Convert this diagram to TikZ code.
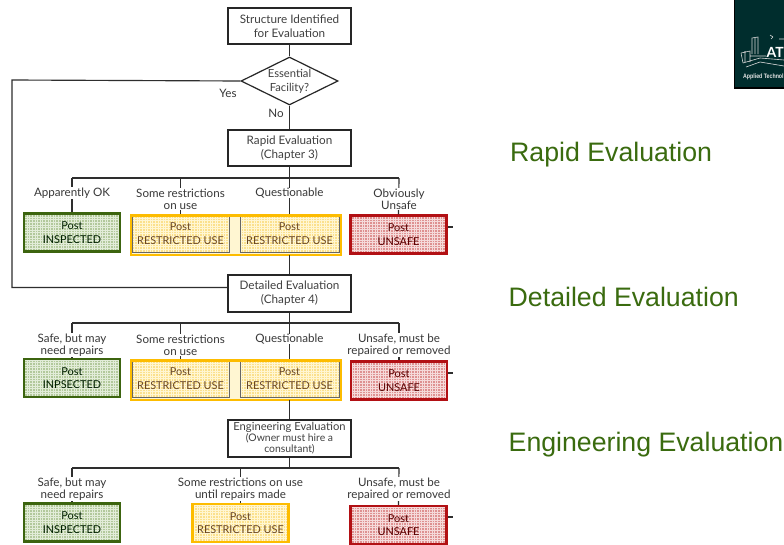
\documentclass[tikz,border=0pt]{standalone}
\usepackage{fontspec}
\usetikzlibrary{shapes.geometric}
\setmainfont{Lato}
\newfontfamily\arialf{Liberation Sans}
\definecolor{sidegreen}{RGB}{58,107,15}
\definecolor{gborder}{RGB}{60,100,15}
\definecolor{gfill}{RGB}{178,200,155}
\definecolor{gmesh}{RGB}{226,236,216}
\definecolor{yborder}{RGB}{253,188,0}
\definecolor{yfill}{RGB}{251,224,140}
\definecolor{ymesh}{RGB}{255,246,210}
\definecolor{rborder}{RGB}{178,16,20}
\definecolor{rfill}{RGB}{222,145,145}
\definecolor{rmesh}{RGB}{245,218,218}
\begin{document}
\begin{tikzpicture}[x=1pt,y=-1pt,
  flow/.style={draw=black!82,line width=1.15pt},
  capt/.style={font=\fontsize{11.6}{12}\selectfont,text=black!78,align=center,fill=white,inner sep=0.3pt},
  tbox/.style={rectangle,draw=black!85,fill=white,minimum width=123pt,minimum height=36pt,inner sep=0pt,align=center,text=black!75,font=\fontsize{11.7}{14}\selectfont},
  diam/.style={diamond,aspect=2,draw=black!85,line width=1.2pt,fill=white,inner sep=0pt,minimum width=97pt,minimum height=48pt,align=center,text=black!75,font=\fontsize{11.2}{14}\selectfont},
  mesh/.style={path picture={\draw[#1,line width=0.8pt] (path picture bounding box.south west) grid[step=2.6pt] (path picture bounding box.north east);}},
  post/.style={rectangle,minimum width=96pt,minimum height=38pt,inner sep=0pt,align=center,font=\fontsize{10.9}{13.5}\selectfont},
  pgreen/.style={post,draw=gborder,line width=2.4pt,fill=gfill,text=black!70!green!40!black,mesh=gmesh},
  pyellow/.style={post,draw=yborder,line width=2.4pt,fill=yfill,text=brown!55!black,mesh=ymesh},
  pyin/.style={post,draw=black!60,line width=1pt,fill=yfill,text=brown!55!black,mesh=ymesh},
  ygroup/.style={post,draw=none,fill=ymesh,minimum width=210pt,minimum height=39pt},
  youtline/.style={draw=yborder,line width=2.4pt},
  pred/.style={post,draw=rborder,line width=2.4pt,fill=rfill,text=red!35!black,mesh=rmesh},
  side/.style={font=\arialf\fontsize{26.7}{30}\selectfont,text=sidegreen,inner sep=0pt,anchor=base west}]
\useasboundingbox (0,0) rectangle (784,544);
\fill[white] (0,0) rectangle (784,544);

% logo
\begin{scope}
\clip (0,0) rectangle (784,544);
\fill[black] (733.5,0) rectangle (784,88.5);
\fill[teal!35!black] (735,0) rectangle (784,87);
\draw[white!85!black,line width=0.6pt] (741,53) -- (750,51) -- (750,62) (741,53) -- (743,63)
  (752,54) -- (752,38) -- (758,37) -- (758,54) (755,38) -- (755,54) (745,51) -- (745,62)
  (743,63) -- (760,58) -- (784,60) (746,67) -- (760,62) -- (784,66) (750,56) -- (766,56)
  (770,35) -- (773,37) (771,39) -- (773,37) (779,39) -- (784,39);
\node[font=\bfseries\fontsize{14}{14}\selectfont,text=white,anchor=west,inner sep=0pt] (atc) at (766.4,52.5) {AT};
\node[font=\bfseries\arialf\fontsize{6.4}{7}\selectfont,text=white!90!black,anchor=west,inner sep=0pt] (atcname) at (743,77) {\scalebox{0.82}[1]{Applied Technol}};
\end{scope}

% decision boxes
\node[tbox,line width=1.2pt] (start) at (289.5,26) {Structure Identified\\for Evaluation};
\node[diam] (ess) at (289.5,81) {Essential\\Facility?};
\node[tbox,line width=2pt] (rapid) at (289.5,148) {Rapid Evaluation\\(Chapter 3)};
\node[tbox,line width=2pt,minimum height=37pt] (detail) at (289.5,293.5) {Detailed Evaluation\\(Chapter 4)};
\node[tbox,line width=2pt,minimum height=37pt,font=\fontsize{11.2}{10.5}\selectfont] (eng) at (289.5,438)
  {Engineering Evaluation\\[0.3pt]{\fontsize{10.4}{10.2}\selectfont(Owner must hire a}\\{\fontsize{10.4}{10.2}\selectfont consultant)}};

% row 1 posts
\node[ygroup] (ygrp1) at (236,235) {};
\node[pgreen] (g1) at (72,232.5) {Post\\INSPECTED};
\node[pyin,minimum width=97pt,minimum height=37.5pt] (y1a) at (180.5,233.5) {Post\\RESTRICTED USE};
\node[pyin,minimum width=99pt,minimum height=37.5pt] (y1b) at (289.5,233.5) {Post\\RESTRICTED USE};
\node[pred] (r1) at (398.5,234.5) {Post\\UNSAFE};
\draw[youtline] (ygrp1.north west) rectangle (ygrp1.south east);
% row 2 posts
\node[ygroup] (ygrp2) at (236,380) {};
\node[pgreen] (g2) at (72,378) {Post\\INPSECTED};
\node[pyin,minimum width=97pt,minimum height=37.5pt] (y2a) at (180.5,378.5) {Post\\RESTRICTED USE};
\node[pyin,minimum width=99pt,minimum height=37.5pt] (y2b) at (289.5,378.5) {Post\\RESTRICTED USE};
\node[pred] (r2) at (399,380.5) {Post\\UNSAFE};
\draw[youtline] (ygrp2.north west) rectangle (ygrp2.south east);
% row 3 posts
\node[pgreen] (g3) at (72,522.5) {Post\\INSPECTED};
\node[pyellow] (y3) at (240.5,523) {Post\\RESTRICTED USE};
\node[pred] (r3) at (398.5,525) {Post\\UNSAFE};

% junctions and free ends
\coordinate (ya) at (12,80);
\coordinate (yb) at (12,287.5);
\coordinate (b1) at (289.5,178);
\coordinate (b1l) at (72,178);
\coordinate (b1m) at (180.5,178);
\coordinate (b1r) at (399,178);
\coordinate (b2) at (289.5,323);
\coordinate (b2l) at (72,323);
\coordinate (b2m) at (180.5,323);
\coordinate (b2r) at (399,323);
\coordinate (b3) at (289.5,468);
\coordinate (b3l) at (72,468);
\coordinate (b3m) at (240.5,468);
\coordinate (b3r) at (399,468);
\coordinate (s1) at (453,227);
\coordinate (s2) at (453,373);
\coordinate (s3) at (453,517);

\draw[flow] (start) -- (ess);
\draw[flow] (ess) -- (rapid);
\draw[flow] (ess.west) -- (ya) -- (yb) -- (yb -| detail.west);
\draw[flow] (rapid) -- (b1);
\draw[flow] (b1l) -- (b1r);
\draw[flow] (b1l) -- (g1.north);
\draw[flow] (b1m) -- (y1a.north);
\draw[flow] (b1) -- (y1b.north);
\draw[flow] (b1r) -- (r1.north);
\draw[flow] (ygrp1.south -| detail.north) -- (detail.north);
\draw[flow] (detail) -- (b2);
\draw[flow] (b2l) -- (b2r);
\draw[flow] (b2l) -- (g2.north);
\draw[flow] (b2m) -- (y2a.north);
\draw[flow] (b2) -- (y2b.north);
\draw[flow] (b2r) -- (r2.north);
\draw[flow] (ygrp2.south -| eng.north) -- (eng.north);
\draw[flow] (eng) -- (b3);
\draw[flow] (b3l) -- (b3r);
\draw[flow] (b3l) -- (g3.north);
\draw[flow] (b3m) -- (y3.north);
\draw[flow] (b3r) -- (r3.north);
\draw[flow] (r1.east |- s1) -- (s1);
\draw[flow] (r2.east |- s2) -- (s2);
\draw[flow] (r3.east |- s3) -- (s3);

% labels
\node[capt] (yes) at (228,93) {Yes};
\node[capt] (no) at (276,113.5) {No};
\node[capt] (l11) at (72,193) {Apparently OK};
\node[capt] (l12) at (180.5,199) {Some restrictions\\on use};
\node[capt] (l13) at (289.5,193) {Questionable};
\node[capt] (l14) at (399,199) {Obviously\\Unsafe};
\node[capt] (l21) at (72,345) {Safe, but may\\need repairs};
\node[capt] (l22) at (180.5,345) {Some restrictions\\on use};
\node[capt] (l23) at (289.5,339) {Questionable};
\node[capt] (l24) at (399,345) {Unsafe, must be\\repaired or removed};
\node[capt] (l31) at (72,489) {Safe, but may\\need repairs};
\node[capt] (l32) at (240.5,489) {Some restrictions on use\\until repairs made};
\node[capt] (l33) at (399,489) {Unsafe, must be\\repaired or removed};

% side titles
\node[side] (t1) at (510,161) {Rapid Evaluation};
\node[side] (t2) at (508.5,306.7) {Detailed Evaluation};
\node[side] (t3) at (508.5,451.7) {Engineering Evaluation};
\end{tikzpicture}
\end{document}
